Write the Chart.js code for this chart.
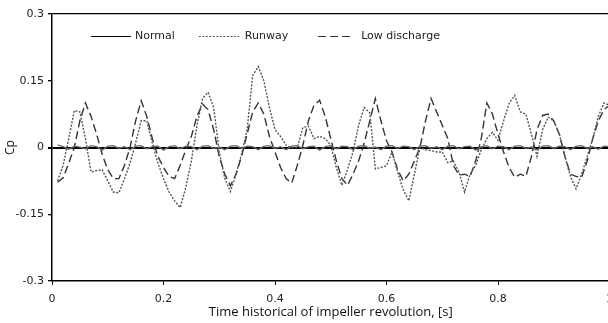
<!DOCTYPE html>
<html>
<head>
<meta charset="utf-8">
<script src="https://cdn.jsdelivr.net/npm/chart.js@4"></script>
<style>
  html, body { margin: 0; padding: 0; background: #fff; overflow: hidden; }
  #wrap { width: 621px; height: 323px; }
</style>
</head>
<body>
<div id="wrap"><canvas id="cp-chart"></canvas></div>
<script>
// time [s]
const times = [
  0.01,0.02,0.03,0.04,0.05,0.06,0.07,0.08,0.09,0.10,
  0.11,0.12,0.13,0.14,0.15,0.16,0.17,0.18,0.19,0.20,
  0.21,0.22,0.23,0.24,0.25,0.26,0.27,0.28,0.29,0.30,
  0.31,0.32,0.33,0.34,0.35,0.36,0.37,0.38,0.39,0.40,
  0.41,0.42,0.43,0.44,0.45,0.46,0.47,0.48,0.49,0.50,
  0.51,0.52,0.53,0.54,0.55,0.56,0.57,0.58,0.59,0.60,
  0.61,0.62,0.63,0.64,0.65,0.66,0.67,0.68,0.69,0.70,
  0.71,0.72,0.73,0.74,0.75,0.76,0.77,0.78,0.79,0.80,
  0.81,0.82,0.83,0.84,0.85,0.86,0.87,0.88,0.89,0.90,
  0.91,0.92,0.93,0.94,0.95,0.96,0.97,0.98,0.99,1.00
];

const normal = [
  0.006,0.002,-0.004,0.003,0.001,-0.003,0.004,0.002,-0.006,0.003,
  0.004,-0.002,0.002,-0.005,0.003,0.004,-0.003,0.002,0.003,-0.006,
  0.002,0.004,-0.003,0.003,0.002,-0.005,0.003,0.004,-0.002,0.001,
  -0.005,0.003,0.004,-0.002,0.003,0.002,-0.005,0.003,0.004,-0.002,
  0.002,-0.005,0.003,0.004,-0.003,0.002,0.003,-0.006,0.002,0.004,
  -0.003,0.003,0.002,-0.005,0.003,0.004,-0.002,0.001,-0.005,0.003,
  0.004,-0.002,0.003,0.002,-0.005,0.003,0.004,-0.002,0.002,-0.005,
  0.003,0.004,-0.003,0.002,0.003,-0.006,0.002,0.004,-0.003,0.003,
  0.002,-0.005,0.003,0.004,-0.002,0.001,-0.005,0.003,0.004,-0.002,
  0.003,0.002,-0.005,0.003,0.004,-0.002,0.002,-0.004,0.003,0.002
];

const runway = [
  -0.075,-0.04,0.02,0.083,0.08,0.02,-0.055,-0.052,-0.05,-0.075,
  -0.1,-0.102,-0.07,-0.035,0.01,0.06,0.06,0.01,-0.035,-0.07,
  -0.1,-0.12,-0.135,-0.09,-0.03,0.05,0.11,0.124,0.09,-0.01,
  -0.07,-0.099,-0.06,-0.015,0.04,0.162,0.182,0.15,0.09,0.04,
  0.025,0.005,0.0,0.0,0.045,0.048,0.02,0.025,0.02,0.005,
  -0.045,-0.085,-0.05,-0.01,0.05,0.09,0.078,-0.048,-0.045,-0.041,
  -0.01,-0.055,-0.095,-0.12,-0.06,0.0,-0.005,-0.007,-0.01,-0.01,
  -0.034,-0.03,-0.055,-0.1,-0.06,-0.04,-0.005,0.02,0.034,0.016,
  0.06,0.1,0.117,0.08,0.075,0.03,-0.02,0.04,0.068,0.06,
  0.03,-0.02,-0.065,-0.093,-0.06,-0.02,0.02,0.07,0.1,0.095
];

const lowDischarge = [
  -0.078,-0.068,-0.035,0.0,0.06,0.1,0.07,0.03,-0.015,-0.05,
  -0.07,-0.07,-0.04,0.0,0.06,0.105,0.07,0.02,-0.02,-0.045,
  -0.065,-0.07,-0.04,-0.005,0.025,0.07,0.098,0.085,0.04,-0.02,
  -0.06,-0.086,-0.06,-0.02,0.03,0.08,0.1,0.075,0.025,-0.01,
  -0.045,-0.07,-0.08,-0.04,0.005,0.06,0.095,0.106,0.07,0.02,
  -0.03,-0.07,-0.085,-0.06,-0.03,0.01,0.06,0.11,0.06,0.015,
  -0.01,-0.05,-0.075,-0.06,-0.03,0.0,0.06,0.11,0.08,0.05,
  0.02,-0.04,-0.062,-0.06,-0.065,-0.03,0.02,0.1,0.075,0.03,
  -0.01,-0.045,-0.067,-0.06,-0.065,-0.02,0.04,0.072,0.075,0.06,
  0.03,-0.02,-0.06,-0.065,-0.067,-0.03,0.02,0.06,0.085,0.095
];

const xTicks = [0, 0.2, 0.4, 0.6, 0.8, 1];
const yTicks = [-0.3, -0.15, 0, 0.15, 0.3];

const toPoints = vals => vals.map((v, i) => ({ x: times[i], y: v }));

// legend drawn inside the plot, Excel style
const insideLegend = {
    id: 'insideLegend',
    afterDraw(chart) {
        const ctx = chart.ctx;
        const area = chart.chartArea;
        ctx.save();
        ctx.font = '11px "DejaVu Sans"';
        ctx.textBaseline = 'middle';
        const y = area.top + 22;
        let x = area.left + 39;
        const lens = [40, 42, 34];
        const gaps = [24, 30, 0];
        chart.data.datasets.forEach((ds, i) => {
            ctx.beginPath();
            ctx.setLineDash(ds.borderDash || []);
            ctx.strokeStyle = i === 0 ? '#000' : ds.borderColor;
            ctx.lineWidth = 1.2;
            ctx.moveTo(x, y + 0.5);
            ctx.lineTo(x + lens[i], y + 0.5);
            ctx.stroke();
            ctx.setLineDash([]);
            x += lens[i] + (i === 2 ? 9 : 4);
            ctx.fillStyle = '#222';
            ctx.fillText(ds.label, x, y);
            x += ctx.measureText(ds.label).width + gaps[i];
        });
        ctx.restore();
    }
};

new Chart(document.getElementById('cp-chart'), {
    type: 'line',
    data: {
        datasets: [
            {
                label: 'Normal',
                data: toPoints(normal),
                borderColor: '#6a6a6a',
                borderWidth: 1.3,
                pointRadius: 0,
                tension: 0
            },
            {
                label: 'Runway',
                data: toPoints(runway),
                borderColor: '#555',
                borderWidth: 1.4,
                borderDash: [2, 1.5],
                pointRadius: 0,
                tension: 0
            },
            {
                label: 'Low discharge',
                data: toPoints(lowDischarge),
                borderColor: '#333',
                borderWidth: 1.4,
                borderDash: [8, 4],
                pointRadius: 0,
                tension: 0
            }
        ]
    },
    options: {
        responsive: true,
        maintainAspectRatio: false,
        animation: false,
        layout: { padding: { top: 14, right: 6, left: 0, bottom: 0 } },
        plugins: {
            legend: { display: false },
            tooltip: { enabled: false }
        },
        scales: {
            x: {
                type: 'linear',
                min: 0,
                max: 1,
                afterBuildTicks: axis => { axis.ticks = xTicks.map(v => ({ value: v })); },
                afterFit: axis => { axis.height = 42; },
                border: { display: true, color: '#000', width: 1.5 },
                grid: {
                    drawOnChartArea: false,
                    drawTicks: true,
                    tickLength: 4,
                    tickColor: '#000'
                },
                ticks: {
                    padding: 8,
                    maxRotation: 0,
                    autoSkip: false,
                    color: '#222',
                    font: { family: 'DejaVu Sans', size: 11 },
                    callback: v => String(v)
                },
                title: {
                    display: true,
                    text: 'Time historical of impeller revolution, [s]',
                    color: '#111',
                    font: { family: 'Open Sans', size: 13 },
                    padding: { top: 0, bottom: 3 }
                }
            },
            y: {
                min: -0.3,
                max: 0.3,
                afterBuildTicks: axis => { axis.ticks = yTicks.map(v => ({ value: v })); },
                afterFit: axis => { axis.width = 52; },
                border: { display: true, color: '#000', width: 1.5 },
                grid: {
                    drawTicks: true,
                    tickLength: 4,
                    tickColor: '#000',
                    color: ctx => (ctx.tick && (ctx.tick.value === 0 || ctx.tick.value === 0.3)) ? '#000' : 'rgba(0,0,0,0)',
                    lineWidth: ctx => (ctx.tick && ctx.tick.value === 0) ? 2 : 1.3
                },
                ticks: {
                    padding: 4,
                    color: '#222',
                    font: { family: 'DejaVu Sans', size: 11 },
                    callback: v => String(v)
                },
                title: {
                    display: true,
                    text: 'Cp',
                    color: '#111',
                    font: { family: 'Open Sans', size: 12 },
                    padding: { top: 3, bottom: 0 }
                }
            }
        }
    },
    plugins: [insideLegend]
});
</script>
</body>
</html>
